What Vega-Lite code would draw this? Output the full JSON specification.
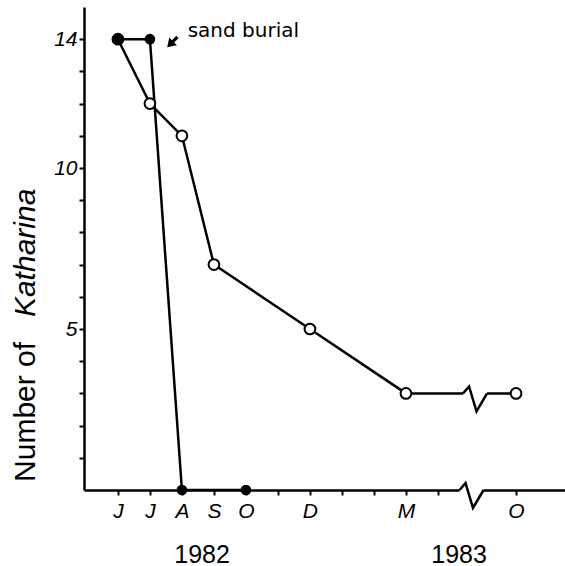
{
  "$schema": "https://vega.github.io/schema/vega-lite/v6.json",
  "width": 481,
  "height": 483,
  "autosize": {"type": "none"},
  "padding": {"left": 84, "top": 7, "right": 0, "bottom": 76},
  "background": "white",
  "config": {
    "view": {"stroke": null},
    "axis": {
      "title": null, "grid": false,
      "domainColor": "black", "domainWidth": 2.5,
      "tickColor": "black", "tickWidth": 2, "tickSize": 5,
      "labelFont": "Liberation Sans", "labelFontStyle": "italic", "labelFontSize": 21,
      "labelColor": "black", "labelOverlap": false, "labelFlush": false, "labelBound": false
    }
  },
  "datasets": {
    "counts": [
      {"plot": "control", "month": "Jun 1982", "t": 0, "n": 14},
      {"plot": "control", "month": "Jul 1982", "t": 1, "n": 12},
      {"plot": "control", "month": "Aug 1982", "t": 2, "n": 11},
      {"plot": "control", "month": "Sep 1982", "t": 3, "n": 7},
      {"plot": "control", "month": "Dec 1982", "t": 6, "n": 5},
      {"plot": "control", "month": "Mar 1983", "t": 9, "n": 3},
      {"plot": "control", "month": "Oct 1983", "t": 12.44, "n": 3},
      {"plot": "buried", "month": "Jun 1982", "t": 0, "n": 14},
      {"plot": "buried", "month": "Jul 1982", "t": 1, "n": 14},
      {"plot": "buried", "month": "Aug 1982", "t": 2, "n": 0},
      {"plot": "buried", "month": "Oct 1982", "t": 4, "n": 0}
    ],
    "breaks": [
      {"t": 11.16, "n": 3},
      {"t": 11.05, "n": 0}
    ],
    "years": [
      {"year": "1982", "t": 2.63},
      {"year": "1983", "t": 10.66}
    ]
  },
  "layer": [
    {
      "encoding": {
        "x": {
          "field": "t", "type": "quantitative",
          "scale": {"domain": [-1.06, 13.97], "nice": false, "zero": false},
          "axis": {
            "values": [0, 1, 2, 3, 4, 5, 6, 7, 8, 9, 10, 12.44],
            "labelExpr": "datum.value > 11 ? 'O' : ['J','J','A','S','O','','D','','','M',''][datum.value]",
            "labelPadding": 5
          }
        },
        "y": {
          "field": "n", "type": "quantitative",
          "scale": {"domain": [0, 15], "nice": false},
          "axis": {
            "values": [1, 2, 3, 4, 5, 6, 7, 8, 9, 10, 11, 12, 13, 14],
            "labelExpr": "datum.value == 5 || datum.value == 10 || datum.value == 14 ? datum.label : ''",
            "labelPadding": 2
          }
        }
      },
      "layer": [
        {
          "data": {"name": "counts"},
          "transform": [{"filter": "datum.plot == 'control'"}],
          "mark": {"type": "line", "color": "black", "strokeWidth": 2.5}
        },
        {
          "data": {"name": "counts"},
          "transform": [{"filter": "datum.plot == 'buried'"}],
          "mark": {"type": "line", "color": "black", "strokeWidth": 2.5}
        },
        {
          "data": {"name": "counts"},
          "transform": [{"filter": "datum.plot == 'control'"}],
          "mark": {"type": "point", "shape": "circle", "filled": true, "fill": "white", "stroke": "black", "strokeWidth": 2, "size": 115, "opacity": 1}
        },
        {
          "data": {"name": "counts"},
          "transform": [{"filter": "datum.plot == 'buried'"}],
          "mark": {"type": "point", "shape": "circle", "filled": true, "fill": "black", "strokeWidth": 0, "size": 115, "opacity": 1}
        },
        {
          "data": {"name": "breaks"},
          "mark": {"type": "point", "shape": "M -1 -0.3 L 1 -0.3 L 1 0.3 L -1 0.3 Z", "filled": true, "fill": "white", "strokeWidth": 0, "size": 576, "opacity": 1}
        },
        {
          "data": {"name": "breaks"},
          "mark": {"type": "point", "shape": "M -1 0 L -0.5 -0.58 L 0.12 1.5 L 1 0", "filled": false, "stroke": "black", "strokeWidth": 2.5, "strokeJoin": "miter", "size": 576, "opacity": 1}
        }
      ]
    },
    {
      "data": {"name": "years"},
      "mark": {"type": "text", "font": "Liberation Sans", "fontSize": 25, "fontStyle": "normal", "align": "center", "baseline": "alphabetic", "color": "black"},
      "encoding": {
        "x": {"field": "t", "type": "quantitative", "axis": {"values": [0, 1, 2, 3, 4, 5, 6, 7, 8, 9, 10, 12.44], "labelExpr": "datum.value > 11 ? 'O' : ['J','J','A','S','O','','D','','','M',''][datum.value]", "labelPadding": 5}},
        "y": {"datum": -2.27, "type": "quantitative", "axis": {"values": [1, 2, 3, 4, 5, 6, 7, 8, 9, 10, 11, 12, 13, 14], "labelExpr": "datum.value == 5 || datum.value == 10 || datum.value == 14 ? datum.label : ''", "labelPadding": 2}},
        "text": {"field": "year"}
      }
    },
    {
      "data": {"values": [{}]},
      "mark": {"type": "point", "shape": "M 0 -1 L 0.75 0.15 L 0.22 0.15 L 0.22 1 L -0.22 1 L -0.22 0.15 L -0.75 0.15 Z", "filled": true, "fill": "black", "strokeWidth": 0, "size": 210, "angle": 225, "opacity": 1},
      "encoding": {
        "x": {"datum": 1.7, "type": "quantitative", "axis": {"values": [0, 1, 2, 3, 4, 5, 6, 7, 8, 9, 10, 12.44], "labelExpr": "datum.value > 11 ? 'O' : ['J','J','A','S','O','','D','','','M',''][datum.value]", "labelPadding": 5}},
        "y": {"datum": 13.91, "type": "quantitative", "axis": {"values": [1, 2, 3, 4, 5, 6, 7, 8, 9, 10, 11, 12, 13, 14], "labelExpr": "datum.value == 5 || datum.value == 10 || datum.value == 14 ? datum.label : ''", "labelPadding": 2}}
      }
    },
    {
      "data": {"values": [{}]},
      "mark": {"type": "text", "text": "sand burial", "font": "DejaVu Sans", "fontSize": 20, "align": "left", "baseline": "alphabetic", "color": "black"},
      "encoding": {
        "x": {"datum": 2.18, "type": "quantitative", "axis": {"values": [0, 1, 2, 3, 4, 5, 6, 7, 8, 9, 10, 12.44], "labelExpr": "datum.value > 11 ? 'O' : ['J','J','A','S','O','','D','','','M',''][datum.value]", "labelPadding": 5}},
        "y": {"datum": 14.07, "type": "quantitative", "axis": {"values": [1, 2, 3, 4, 5, 6, 7, 8, 9, 10, 11, 12, 13, 14], "labelExpr": "datum.value == 5 || datum.value == 10 || datum.value == 14 ? datum.label : ''", "labelPadding": 2}}
      }
    },
    {
      "data": {"values": [{}]},
      "mark": {"type": "text", "text": "Number of", "font": "Liberation Sans", "fontSize": 30, "angle": 270, "align": "left", "baseline": "alphabetic", "color": "black"},
      "encoding": {
        "x": {"datum": -2.59, "type": "quantitative", "axis": {"values": [0, 1, 2, 3, 4, 5, 6, 7, 8, 9, 10, 12.44], "labelExpr": "datum.value > 11 ? 'O' : ['J','J','A','S','O','','D','','','M',''][datum.value]", "labelPadding": 5}},
        "y": {"datum": 0.25, "type": "quantitative", "axis": {"values": [1, 2, 3, 4, 5, 6, 7, 8, 9, 10, 11, 12, 13, 14], "labelExpr": "datum.value == 5 || datum.value == 10 || datum.value == 14 ? datum.label : ''", "labelPadding": 2}}
      }
    },
    {
      "data": {"values": [{}]},
      "mark": {"type": "text", "text": "Katharina", "font": "Liberation Sans", "fontSize": 30, "fontStyle": "italic", "angle": 270, "align": "left", "baseline": "alphabetic", "color": "black"},
      "encoding": {
        "x": {"datum": -2.59, "type": "quantitative", "axis": {"values": [0, 1, 2, 3, 4, 5, 6, 7, 8, 9, 10, 12.44], "labelExpr": "datum.value > 11 ? 'O' : ['J','J','A','S','O','','D','','','M',''][datum.value]", "labelPadding": 5}},
        "y": {"datum": 5.37, "type": "quantitative", "axis": {"values": [1, 2, 3, 4, 5, 6, 7, 8, 9, 10, 11, 12, 13, 14], "labelExpr": "datum.value == 5 || datum.value == 10 || datum.value == 14 ? datum.label : ''", "labelPadding": 2}}
      }
    }
  ]
}
